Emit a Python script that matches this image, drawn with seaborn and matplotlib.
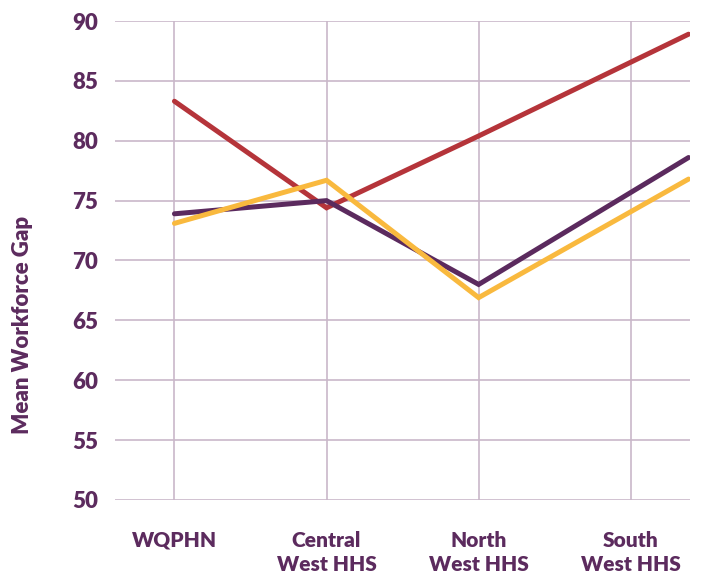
import matplotlib
matplotlib.use("Agg")
import matplotlib.pyplot as plt
import seaborn as sns
import pandas as pd

# Regions along the x axis and the position of each point on that axis
categories = ["WQPHN", "Central\nWest HHS", "North\nWest HHS", "South\nWest HHS"]
point_pos = [0, 1, 2, 3.38]

# Mean workforce gap per series
series_names = ["Series A", "Series B", "Series C"]
series_a = [83.3, 74.4, 80.4, 88.9]
series_b = [73.9, 75.0, 68.0, 78.6]
series_c = [73.1, 76.7, 66.9, 76.8]
colors = ["#B5343A", "#5B2A5E", "#F9B93E"]

text_color = "#5C2B5E"
grid_color = "#C9B8C9"

rows = []
for name, vals in zip(series_names, [series_a, series_b, series_c]):
    for x, v in zip(point_pos, vals):
        rows.append({"pos": x, "value": v, "series": name})
df = pd.DataFrame(rows)

sns.set_theme(style="white")
plt.rcParams["font.family"] = ["Lato", "DejaVu Sans"]

fig = plt.figure(figsize=(7.02, 5.76), dpi=100)
ax = fig.add_axes([0.164, 0.132, 0.819, 0.8315])

sns.lineplot(data=df, x="pos", y="value", hue="series", palette=colors,
             linewidth=3.6, legend=False, ax=ax, sort=False)
for line in ax.get_lines():
    line.set_solid_capstyle("round")
    line.set_solid_joinstyle("miter")

ax.set_xlim(-0.39, 3.39)
ax.set_ylim(50, 90)
ax.set_xticks(range(len(categories)))
ax.set_xticklabels(categories, fontsize=15, fontweight="heavy", color=text_color,
                   linespacing=1.35)
ax.set_yticks(range(50, 91, 5))
ax.tick_params(axis="y", labelsize=16, labelcolor=text_color, length=0, pad=12)
ax.tick_params(axis="x", length=0, pad=22)
for lbl in ax.get_yticklabels():
    lbl.set_fontweight("heavy")

ax.grid(True, color=grid_color, linewidth=1.2)
ax.set_axisbelow(True)
for s in ax.spines.values():
    s.set_visible(False)

ax.set_xlabel("")
ax.set_ylabel("Mean Workforce Gap", fontsize=16, fontweight="heavy", color=text_color)
ax.yaxis.set_label_coords(-0.143, 0.365)

fig.savefig("out.png", dpi=100)
